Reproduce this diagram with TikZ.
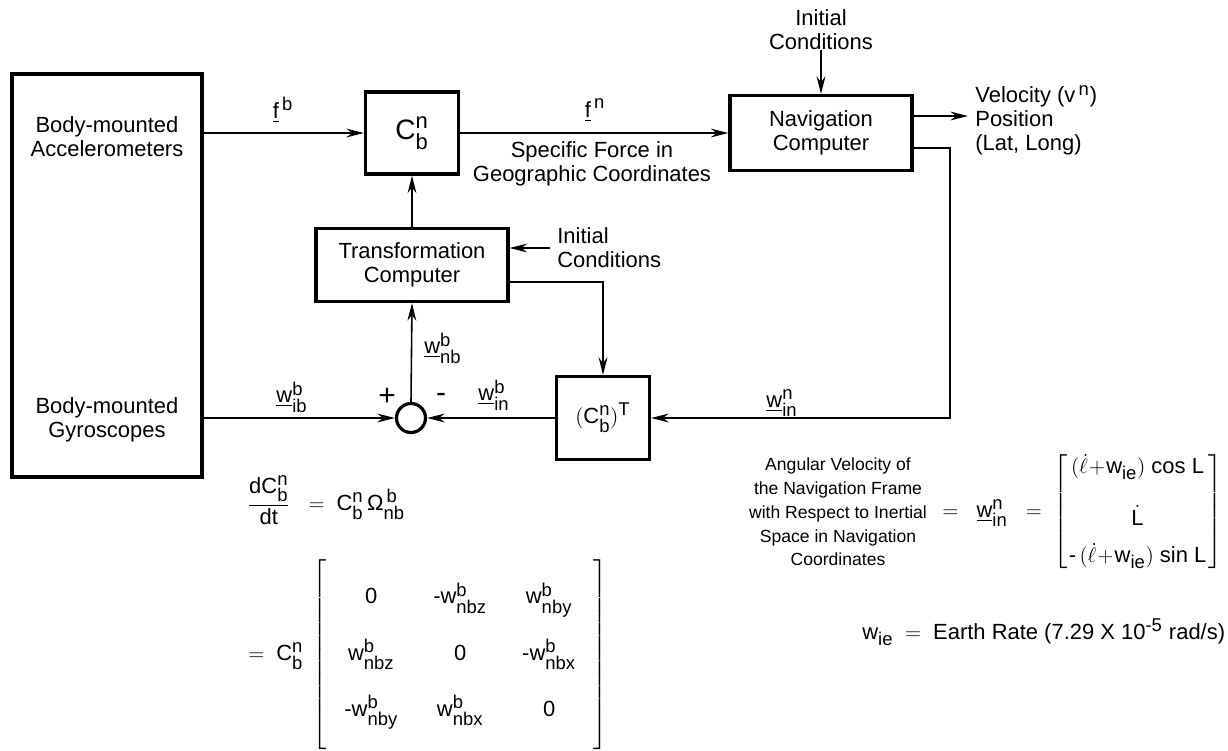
\documentclass[tikz,border=0pt]{standalone}
\usepackage{amsmath}
\usepackage{fontspec}
\setmainfont{Liberation Sans}
\setmathrm{Liberation Sans}
\usetikzlibrary{arrows.meta}
\DeclareMathSizes{12.5}{12.5}{10.5}{8}
\DeclareMathSizes{16}{16}{12.5}{10}
\DeclareMathSizes{10}{10}{8}{6}
\newcommand{\tm}[1]{\mathrm{#1}}
\newcommand{\uvec}[1]{\underline{\mathrm{#1}}}
\newcommand{\Cbn}{\mathrm{C}^{\mathrm{n}}_{\mathrm{b}}}

\begin{document}
\begin{tikzpicture}[x=0.02cm, y=-0.02cm,
    font=\fontsize{12.5}{13.5}\selectfont,
    >={Stealth[length=10pt,width=5pt]},
    block/.style={draw, rectangle, line width=1.8pt, inner sep=0pt, align=center},
    signal/.style={->, line width=0.9pt},
    txt/.style={inner sep=0pt, align=center}]
    \useasboundingbox (0,0) rectangle (1228,751);

    % blocks
    \node[block, minimum width=3.8cm, minimum height=8.06cm] (sensors) at (107,275.5) {};
    \node[txt] (accel) at (107,137) {Body-mounted\\Accelerometers};
    \node[txt] (gyro) at (107,420) {Body-mounted\\Gyroscopes};
    \node[block, minimum width=1.86cm, minimum height=1.64cm, font=\fontsize{16}{18}\selectfont] (cbn) at (412,133) {$\Cbn$};
    \node[block, minimum width=3.64cm, minimum height=1.5cm] (nav) at (821,133) {Navigation\\Computer};
    \node[block, minimum width=3.84cm, minimum height=1.46cm] (tc) at (412,265) {Transformation\\Computer};
    \node[block, minimum width=1.86cm, minimum height=1.66cm] (ct) at (603,418) {$(\Cbn)^{\tm{T}}$};
    \node[draw, circle, line width=1.8pt, minimum size=0.58cm, inner sep=0pt] (sum) at (411,418) {};
    \coordinate (fbk) at (950,418);

    % inputs, outputs and labels
    \node[txt] (ictop) at (821,30) {Initial\\Conditions};
    \node[txt, anchor=west, align=left, inner xsep=4pt] (icmid) at (550,248) {Initial\\Conditions};
    \node[txt, anchor=west, align=left, inner xsep=4pt] (out) at (968,120) {Velocity ($\tm{v}^{\,\tm{n}}$)\\Position\\(Lat, Long)};
    \node[txt] (fb) at (283,110) {$\uvec{f}^{\,\tm{b}}$};
    \node[txt] (fn) at (595,110) {$\uvec{f}^{\,\tm{n}}$};
    \node[txt] (sfgc) at (592,164) {Specific Force in\\Geographic Coordinates};
    \node[txt] (wnb) at (443,348) {$\uvec{w}^{\tm{b}}_{\tm{nb}}$};
    \node[txt] (wib) at (292,397) {$\uvec{w}^{\tm{b}}_{\tm{ib}}$};
    \node[txt, font=\fontsize{17}{18}\selectfont] (plus) at (387,397) {+};
    \node[txt, font=\fontsize{17}{18}\selectfont] (minus) at (441,398) {-};
    \node[txt] (winb) at (494,395) {$\uvec{w}^{\tm{b}}_{\tm{in}}$};
    \node[txt] (winn) at (782,403) {$\uvec{w}^{\tm{n}}_{\tm{in}}$};
    \node[txt, font=\fontsize{10}{13.5}\selectfont] (angvel) at (838,512) {Angular Velocity of\\the Navigation Frame\\with Respect to Inertial\\Space in Navigation\\Coordinates};

    % equations
    \node[txt, anchor=west] (wineq) at (942,512) {$=\hspace{7pt}\uvec{w}^{\tm{n}}_{\tm{in}}\hspace{7pt}=\hspace{3pt}
        \arraycolsep=1pt\left[\begin{array}{c}
        (\dot{\ell}\!+\!\tm{w}_{\tm{ie}})\ \tm{cos\ L}\\[14pt]
        \dot{\tm{L}}\\[6pt]
        \text{-}\,(\dot{\ell}\!+\!\tm{w}_{\tm{ie}})\ \tm{sin\ L}
        \end{array}\right]$};
    \node[txt] (dcdt) at (326,500) {$\dfrac{\tm{dC}^{\tm{n}}_{\tm{b}}}{\tm{dt}} \ \ = \ \Cbn\,\text{Ω}^{\,\tm{b}}_{\tm{nb}}$};
    \node[txt] (omat) at (428,655) {$= \ \Cbn \;
        \arraycolsep=10pt\left[\begin{array}{ccc}
        \rule{0pt}{25pt}\tm{0} & \text{-}\tm{w}^{\tm{b}}_{\tm{nbz}} & \tm{w}^{\tm{b}}_{\tm{nby}}\\[16pt]
        \tm{w}^{\tm{b}}_{\tm{nbz}} & \tm{0} & \text{-}\tm{w}^{\tm{b}}_{\tm{nbx}}\\[16pt]
        \text{-}\tm{w}^{\tm{b}}_{\tm{nby}} & \tm{w}^{\tm{b}}_{\tm{nbx}} & \tm{0}\\[15pt]
        \end{array}\right]$};
    \node[txt, anchor=west] (wie) at (862,632) {$\tm{w}_{\tm{ie}} \; = \;$ Earth Rate (7.29 X 10$^{\text{-5}}$ rad/s)};

    % connectors
    \draw[signal] (sensors.east |- cbn.west) -- (cbn.west);
    \draw[signal] (cbn.east) -- (nav.west);
    \draw[signal] (ictop.south) -- (nav.north);
    \draw[signal] ([yshift=0.34cm]nav.east) -- ([yshift=0.34cm]nav.east -| out.west);
    \draw[signal] ([yshift=-0.3cm]nav.east) -| (fbk) -- (ct.east);
    \draw[signal] (icmid.west) -- (tc.east |- icmid.west);
    \draw[signal] ([yshift=-0.34cm]tc.east) -| (ct.north);
    \draw[signal] (tc.north) -- (cbn.south);
    \draw[signal] (sum.north) -- (tc.south);
    \draw[signal] (sensors.east |- sum.west) -- (sum.west);
    \draw[signal] (ct.west) -- (sum.east);
\end{tikzpicture}
\end{document}
